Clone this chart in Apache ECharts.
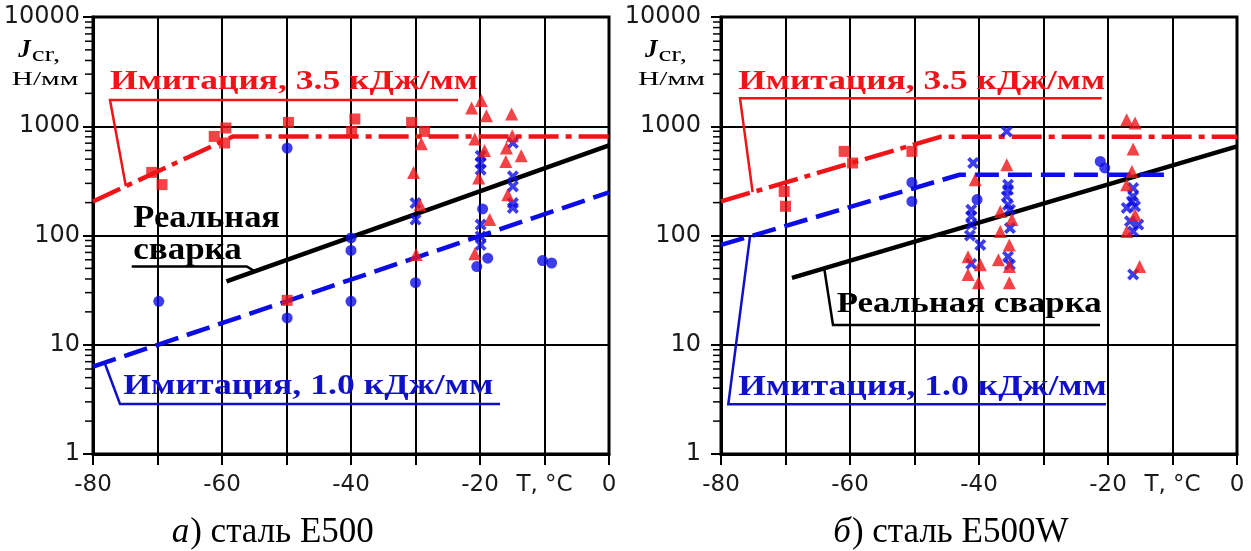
<!DOCTYPE html>
<html>
<head>
<meta charset="utf-8">
<title>Jcr – T</title>
<script src="https://cdn.jsdelivr.net/npm/echarts@6/dist/echarts.min.js"></script>
<style>
html, body { margin: 0; padding: 0; background: #fff; }
#chart { width: 1251px; height: 551px; }
</style>
</head>
<body>
<div id="chart"></div>
<script>
// Temperature axis, °C
const tempTicks = [-80, -70, -60, -50, -40, -30, -20, -10, 0];
const tempTickLabels = ['-80', '', '-60', '', '-40', '', '-20', 'T, °C', '0'];

// Jcr axis, N/mm (logarithmic)
const jTicks = [1, 10, 100, 1000, 10000];
const jTickLabels = ['1', '10', '100', '1000', '10000'];
const jMinorTicks = [2, 3, 4, 5, 6, 7, 8, 9,
  20, 30, 40, 50, 60, 70, 80, 90,
  200, 300, 400, 500, 600, 700, 800, 900,
  2000, 3000, 4000, 5000, 6000, 7000, 8000, 9000];

// Steel E500: measured points [T, Jcr]
const e500Squares = [[-70.9, 378], [-69.3, 292], [-61.2, 807], [-59.4, 964], [-59.6, 703],
  [-49.7, 1084], [-49.9, 25.5], [-39.4, 1165], [-39.9, 897], [-30.6, 1084], [-28.6, 897]];
const e500Triangles = [[-29.1, 692], [-30.3, 378], [-29.3, 191], [-29.9, 67],
  [-21.3, 1469], [-19.8, 1725], [-19.0, 1250], [-20.8, 764], [-19.3, 601], [-20.2, 336],
  [-18.5, 140], [-20.8, 68], [-15.1, 1295], [-15.0, 819], [-15.9, 632], [-13.6, 537],
  [-16.0, 476], [-15.7, 236]];
const e500Circles = [[-69.8, 25], [-49.9, 632], [-49.9, 17.6], [-40, 95], [-40, 73], [-40, 25],
  [-30, 37], [-19.6, 175], [-20.5, 52], [-18.8, 62], [-10.3, 59], [-8.9, 56]];
const e500Crosses = [[-30, 198], [-30, 140], [-19.9, 537], [-19.9, 461], [-19.9, 400],
  [-19.9, 126], [-19.9, 98], [-19.9, 82], [-14.9, 703], [-14.9, 348], [-14.9, 281],
  [-14.9, 198], [-14.9, 179]];
// Steel E500: trend lines
const e500Sim35 = [[-80, 205], [-58.3, 807], [0, 807]];
const e500Sim10 = [[-80, 6.3], [0, 248]];
const e500Real = [[-59.3, 38], [0, 668]];

// Steel E500W: measured points [T, Jcr]
const e500wSquares = [[-70.2, 253], [-70.0, 185], [-60.9, 589], [-59.6, 461], [-50.4, 589]];
const e500wTriangles = [[-40.6, 324], [-41.7, 64], [-39.8, 54], [-41.7, 44], [-40.1, 37],
  [-35.7, 445], [-36.7, 166], [-34.9, 140], [-36.7, 109], [-35.3, 82], [-37.0, 60],
  [-35.3, 52], [-35.3, 37], [-17.1, 1148], [-15.8, 1071], [-16.1, 619], [-16.3, 386],
  [-17.1, 292], [-15.8, 155], [-17.1, 109], [-15.1, 52]];
const e500wCircles = [[-50.4, 306], [-50.4, 205], [-40.3, 213], [-21.2, 476], [-20.5, 415]];
const e500wCrosses = [[-40.9, 461], [-41.2, 172], [-41.2, 150], [-41.2, 126], [-41.4, 100],
  [-39.8, 82], [-41.2, 55], [-35.7, 897], [-35.5, 292], [-35.5, 262], [-35.7, 228],
  [-35.5, 191], [-35.2, 172], [-35.2, 117], [-35.5, 64], [-35.2, 54],
  [-16.1, 272], [-16.1, 228], [-16.3, 205], [-17.1, 179], [-15.8, 185], [-16.6, 135],
  [-15.3, 126], [-16.1, 109], [-16.1, 44]];
// Steel E500W: trend lines
const e500wSim35 = [[-80, 205], [-46, 800], [0, 800]];
const e500wSim10 = [[-80, 82], [-43, 360], [-10, 360]];
const e500wReal = [[-69, 41], [0, 654]];

const RED = '#f01418';
const BLUE = '#0c0ce6';
const BLUE_TEXT = '#1010c8';
const BLACK = '#000';

const CROSS = 'path://M2.2,0 L5,2.8 L7.8,0 L10,2.2 L7.2,5 L10,7.8 L7.8,10 L5,7.2 L2.2,10 L0,7.8 L2.8,5 L0,2.2 Z';

const chart = echarts.init(document.getElementById('chart'), null, { renderer: 'canvas' });

const panels = [
  { left: 93, labelMargin: 13,
    squares: e500Squares, triangles: e500Triangles, circles: e500Circles, crosses: e500Crosses,
    sim35: e500Sim35, sim10: e500Sim10, real: e500Real },
  { left: 721, labelMargin: 20,
    squares: e500wSquares, triangles: e500wTriangles, circles: e500wCircles, crosses: e500wCrosses,
    sim35: e500wSim35, sim10: e500wSim10, real: e500wReal }
];

const grids = [], xAxes = [], yAxes = [], series = [];
panels.forEach((p, i) => {
  grids.push({ left: p.left, top: 17, width: 516, height: 437,
    show: true, borderColor: BLACK, borderWidth: 3, backgroundColor: 'transparent' });
  xAxes.push({
    gridIndex: i, type: 'value', min: -80, max: 0, interval: 10,
    axisLine: { show: true, onZero: false, lineStyle: { color: BLACK, width: 3 } },
    axisTick: { show: true, length: 11, lineStyle: { color: BLACK, width: 2 } },
    axisLabel: {
      margin: 20, color: '#1a1a1a', fontFamily: 'DejaVu Sans', fontSize: 23,
      showMinLabel: true, showMaxLabel: true,
      formatter: v => {
        const k = tempTicks.findIndex(t => Math.abs(t - v) < 1e-6);
        return k >= 0 ? tempTickLabels[k] : '';
      }
    },
    splitLine: { show: true, lineStyle: { color: BLACK, width: 2 } }
  });
  yAxes.push({
    gridIndex: i, type: 'log', logBase: 10, min: 1, max: 10000,
    axisLine: { show: true, onZero: false, lineStyle: { color: BLACK, width: 3 } },
    axisTick: { show: true, length: 10, lineStyle: { color: BLACK, width: 2 } },
    axisLabel: {
      margin: p.labelMargin, color: '#1a1a1a', fontFamily: 'DejaVu Sans', fontSize: 24,
      showMinLabel: true, showMaxLabel: true,
      formatter: v => {
        const k = jTicks.findIndex(t => Math.abs(Math.log10(t) - Math.log10(v)) < 1e-6);
        return k >= 0 ? jTickLabels[k] : '';
      }
    },
    splitLine: { show: true, lineStyle: { color: BLACK, width: 2 } }
  });

  // minor logarithmic ticks on the outer side of the Jcr axis
  series.push({
    type: 'custom', xAxisIndex: i, yAxisIndex: i, clip: false, silent: true, z: 1,
    data: jMinorTicks.map(v => [-80, v]),
    renderItem: (params, api) => {
      const pt = api.coord([api.value(0), api.value(1)]);
      return { type: 'line', shape: { x1: pt[0] - 8, y1: pt[1], x2: pt[0], y2: pt[1] },
        style: { stroke: BLACK, lineWidth: 1.5 } };
    }
  });

  const lineBase = { type: 'line', xAxisIndex: i, yAxisIndex: i, symbol: 'none', silent: true, z: 3 };
  series.push(Object.assign({}, lineBase, { data: p.real,
    lineStyle: { color: BLACK, width: 4.5, type: 'solid' } }));
  series.push(Object.assign({}, lineBase, { data: p.sim10,
    lineStyle: { color: BLUE, width: 4.5, type: [24, 9] } }));
  series.push(Object.assign({}, lineBase, { data: p.sim35,
    lineStyle: { color: RED, width: 4.5, type: [30, 7, 6, 7] } }));

  const pts = { type: 'scatter', xAxisIndex: i, yAxisIndex: i, silent: true, z: 4 };
  series.push(Object.assign({}, pts, { data: p.crosses, symbol: CROSS, symbolSize: 12,
    itemStyle: { color: BLUE } }));
  series.push(Object.assign({}, pts, { data: p.circles, symbol: 'circle', symbolSize: 11,
    itemStyle: { color: BLUE } }));
  series.push(Object.assign({}, pts, { data: p.squares, symbol: 'rect', symbolSize: 11,
    itemStyle: { color: RED } }));
  series.push(Object.assign({}, pts, { data: p.triangles, symbol: 'triangle', symbolSize: 13,
    itemStyle: { color: RED } }));
});

chart.setOption({
  animation: false,
  backgroundColor: '#fff',
  grid: grids,
  xAxis: xAxes,
  yAxis: yAxes,
  series: series
});

// ---- annotations ----
const measureCtx = document.createElement('canvas').getContext('2d');
function measure(str, font) { measureCtx.font = font; return measureCtx.measureText(str).width; }
function fontSize(font) { return parseFloat(font.match(/([\d.]+)px/)[1]); }

// text placed by its left edge and baseline, optionally stretched to a given right edge
function textEl(str, font, color, left, base, right) {
  const w = measure(str, font);
  const sx = right != null ? (right - left) / w : 1;
  return {
    type: 'text', x: left, y: base - 0.3 * fontSize(font), scaleX: sx, scaleY: 1,
    silent: true, z: 100,
    style: { text: str, font: font, fill: color,
      textAlign: 'left', textVerticalAlign: 'middle', align: 'left', verticalAlign: 'middle' }
  };
}
function polyEl(points, color, width) {
  return { type: 'polyline', silent: true, z: 100,
    shape: { points: points }, style: { stroke: color, lineWidth: width, fill: null } };
}
// point of a trend line (interpolated in log space) at temperature t
function onLine(gridIndex, line, t) {
  for (let k = 0; k < line.length - 1; k++) {
    const a = line[k], b = line[k + 1];
    if (t >= a[0] && t <= b[0]) {
      const f = (t - a[0]) / (b[0] - a[0]);
      const lv = Math.log10(a[1]) + f * (Math.log10(b[1]) - Math.log10(a[1]));
      return chart.convertToPixel({ gridIndex: gridIndex }, [t, Math.pow(10, lv)]);
    }
  }
  return null;
}

const SERIF = '"Liberation Serif", "Times New Roman", serif';
const fRed = 'bold 28px ' + SERIF;
const fBlack = 'bold 32px ' + SERIF;
const fBlue = 'bold 30px ' + SERIF;

const g = [];
// panel a
g.push(textEl('Имитация, 3.5 кДж/мм', fRed, RED, 110, 90, 478));
g.push(polyEl([[458, 100], [110, 100], onLine(0, e500Sim35, -74.9)], RED, 2.5));
g.push(textEl('Реальная', fBlack, BLACK, 133.3, 228.3, 280));
g.push(textEl('сварка', fBlack, BLACK, 133.3, 260, 241.7));
g.push(polyEl([[131.7, 266.5], [246.7, 266.5], onLine(0, e500Real, -54.9)], BLACK, 2.5));
g.push(textEl('Имитация, 1.0 кДж/мм', fBlue, BLUE_TEXT, 123.3, 395, 493.3));
g.push(polyEl([[500, 404], [120, 404], onLine(0, e500Sim10, -78.2)], BLUE_TEXT, 2.5));
// panel б
g.push(textEl('Имитация, 3.5 кДж/мм', fRed, RED, 738.3, 90.5, 1105));
g.push(polyEl([[1101.7, 98.3], [740, 98.3], onLine(1, e500wSim35, -75.1)], RED, 2.5));
g.push(textEl('Реальная сварка', 'bold 30px ' + SERIF, BLACK, 836.7, 313.3, 1101.7));
g.push(polyEl([[1100, 325], [833, 325], onLine(1, e500wReal, -64)], BLACK, 2.5));
g.push(textEl('Имитация, 1.0 кДж/мм', fBlue, BLUE_TEXT, 738.3, 396, 1106.7));
g.push(polyEl([[1106, 404.3], [728.3, 404.3], onLine(1, e500wSim10, -75.5)], BLUE_TEXT, 2.5));

// axis titles Jcr, Н/мм
[[18.3, 11.7, 78.3], [645, 638, 705]].forEach(([jx, ux, ur]) => {
  const fJ = 'bold italic 25px ' + SERIF;
  g.push(textEl('J', fJ, BLACK, jx, 58.3));
  const jw = measure('J', fJ);
  g.push(textEl('cr,', '20px ' + SERIF, BLACK, jx + jw + 1, 62, jx + 42));
  g.push(textEl('Н/мм', '18px ' + SERIF, BLACK, ux, 86, ur));
});

// captions
function caption(letter, rest, left, base) {
  const fI = 'italic 35px ' + SERIF, fN = '35px ' + SERIF;
  g.push(textEl(letter, fI, BLACK, left, base));
  g.push(textEl(rest, fN, BLACK, left + measure(letter, fI) + 1, base));
}
caption('а', ') сталь E500', 171.7, 543.3);
caption('б', ') сталь E500W', 833.3, 543.3);

chart.setOption({ graphic: g });
</script>
</body>
</html>
